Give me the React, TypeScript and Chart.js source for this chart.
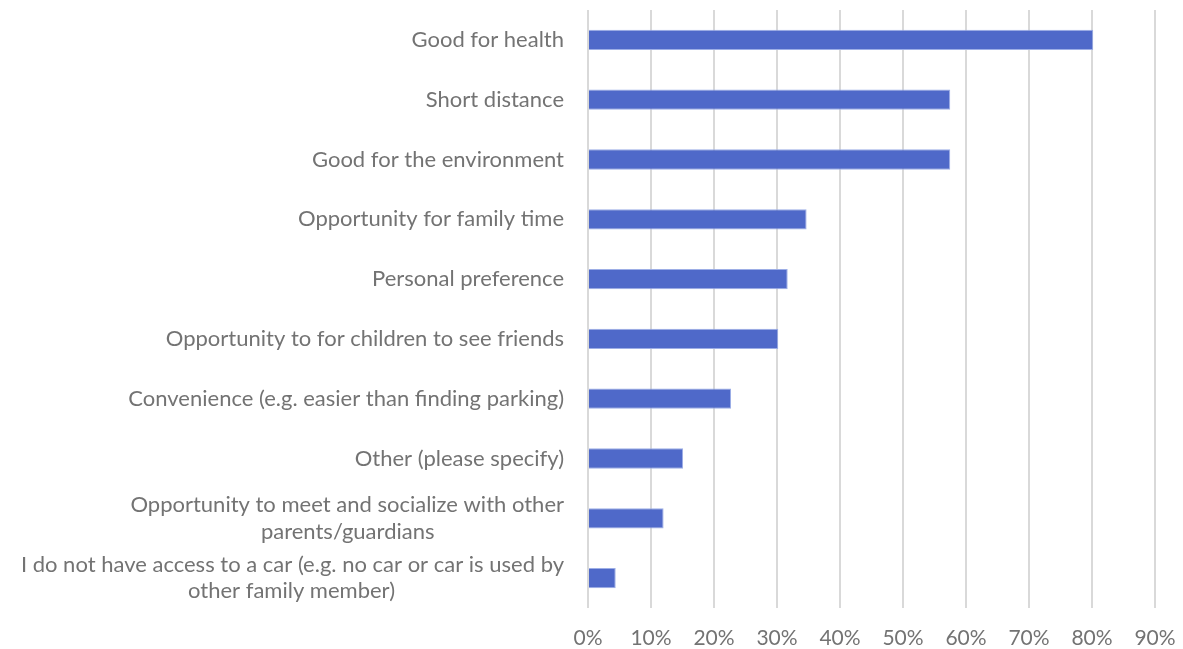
import React, { useEffect, useRef } from "react";
import { Chart, registerables } from "chart.js";

Chart.register(...registerables);

const categories: (string | string[])[] = [
  "Good for health",
  "Short distance",
  "Good for the environment",
  "Opportunity for family time",
  "Personal preference",
  "Opportunity to for children to see friends",
  "Convenience (e.g. easier than finding parking)",
  "Other (please specify)",
  ["Opportunity to meet and socialize with other", "parents/guardians"],
  ["I do not have access to a car (e.g. no car or car is used by", "other family member)"],
];

const values: number[] = [0.802, 0.575, 0.575, 0.347, 0.317, 0.302, 0.227, 0.151, 0.12, 0.044];

const xTicks: number[] = [0, 0.1, 0.2, 0.3, 0.4, 0.5, 0.6, 0.7, 0.8, 0.9];

const LABEL_FONT = "22px Lato";

function centerLines(lines: string[]): string[] {
  const c = document.createElement("canvas").getContext("2d");
  if (!c) return lines;
  c.font = LABEL_FONT;
  const widths = lines.map((l) => c.measureText(l).width);
  const maxW = Math.max(...widths);
  const sp = c.measureText(" ").width || 5;
  return lines.map((l, i) => {
    const n = Math.round((maxW - widths[i]) / 2 / sp);
    return n > 0 ? l + " ".repeat(n) : l;
  });
}

export default function App() {
  const ref = useRef<HTMLCanvasElement | null>(null);
  useEffect(() => {
    if (!ref.current) return;
    const chart = new Chart(ref.current, {
      type: "bar",
      data: {
        labels: categories,
        datasets: [
          {
            data: values,
            backgroundColor: "#4F69C9",
            borderColor: "#9DAEE6",
            borderWidth: 1,
            categoryPercentage: 1,
            barPercentage: 0.34,
          },
        ],
      },
      options: {
        indexAxis: "y",
        responsive: false,
        animation: false,
        layout: { padding: { top: 10, right: 28, left: 0, bottom: 0 } },
        plugins: { legend: { display: false }, tooltip: { enabled: false } },
        scales: {
          x: {
            min: 0,
            max: 0.9,
            afterBuildTicks: (axis: any) => {
              axis.ticks = xTicks.map((v) => ({ value: v }));
            },
            afterFit: (axis: any) => {
              axis.paddingLeft = 0;
              axis.paddingRight = 0;
              axis.height = 41;
            },
            ticks: {
              callback: (v: any) => Math.round(Number(v) * 100) + "%",
              color: "#737373",
              font: { family: "Lato", size: 21 },
              padding: 18,
            },
            grid: { color: "#D9D9D9", lineWidth: 2, drawTicks: false },
            border: { display: false },
          },
          y: {
            afterFit: (axis: any) => {
              axis.paddingTop = 0;
              axis.paddingBottom = 0;
              axis.width = 588;
            },
            ticks: {
              callback: function (this: any, v: any) {
                const lbl = this.getLabelForValue(v);
                return Array.isArray(lbl) ? centerLines(lbl) : lbl;
              },
              color: "#737373",
              font: { family: "Lato", size: 22, lineHeight: 1.2 },
              padding: 24,
              autoSkip: false,
            },
            grid: { display: false, drawTicks: false },
            border: { display: false },
          },
        },
      },
    });
    return () => chart.destroy();
  }, []);
  return (
    <div style={{ position: "absolute", left: 0, top: 0, width: 1183, height: 649, background: "#fff" }}>
      <canvas ref={ref} width={1183} height={649} />
    </div>
  );
}
